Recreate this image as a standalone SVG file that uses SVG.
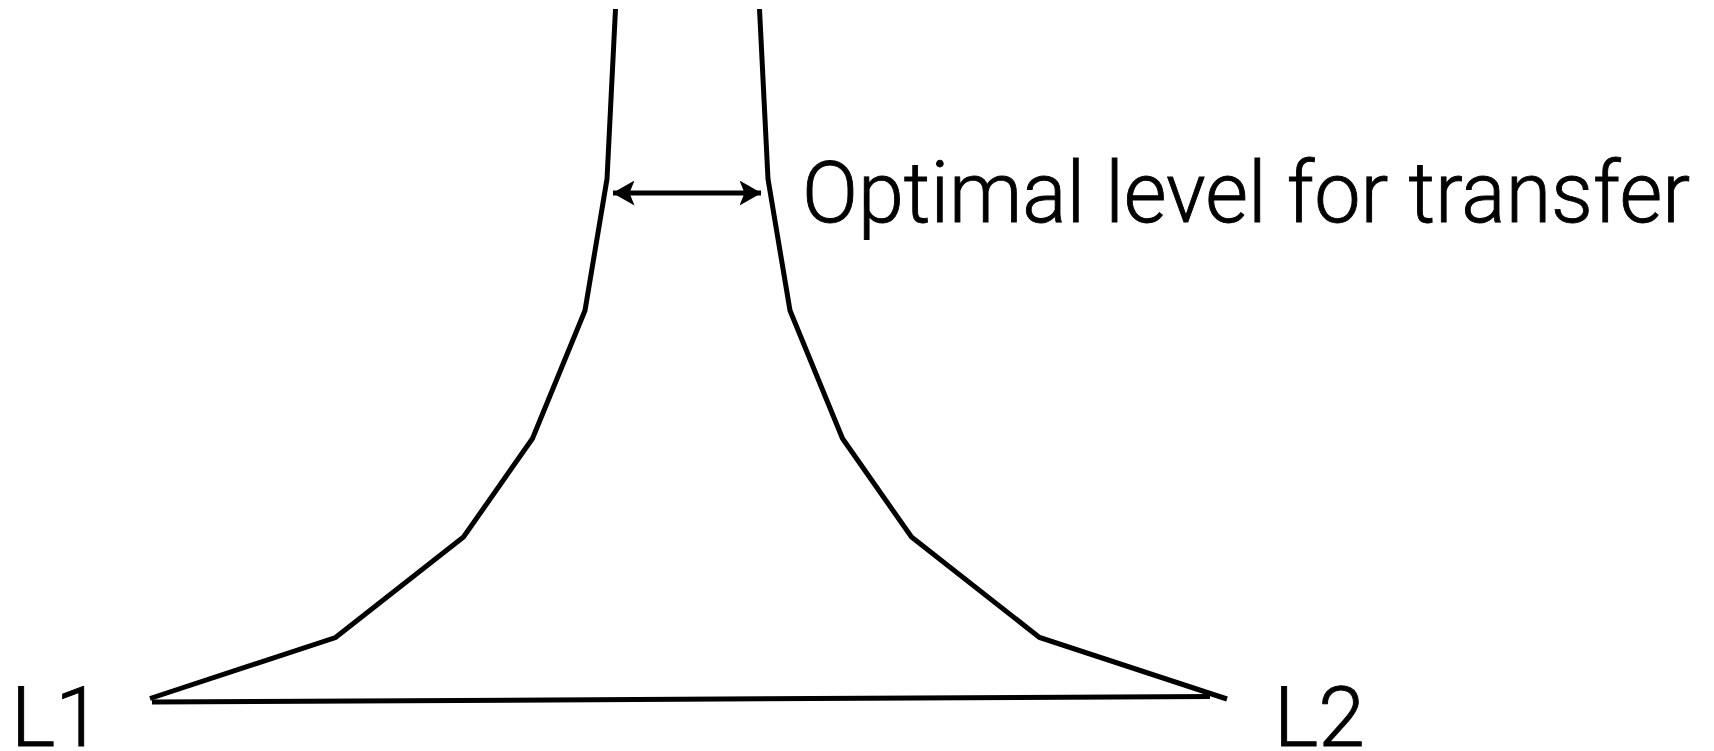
<svg xmlns="http://www.w3.org/2000/svg" width="1714" height="751" viewBox="0 0 1714 751">
<style>
.ln{fill:none;stroke:#000;stroke-width:5;stroke-linejoin:miter;stroke-linecap:butt}
.lbl{font-family:Roboto,"Liberation Sans",Arial,sans-serif;font-weight:300;fill:#000;stroke:#000;stroke-width:0.9}
</style>
<defs>
<marker id="ah" viewBox="0 0 22 25" refX="21.5" refY="12.5" markerWidth="22" markerHeight="25" markerUnits="userSpaceOnUse" orient="auto-start-reverse">
<path d="M0,0 L22,12.5 L0,25 L5,12.5 Z" fill="#000"/>
</marker>
</defs>
<rect width="1714" height="751" fill="#fff"/>
<g id="connectors">
<polyline class="ln" points="615.5,9 607,179 585,310.5 532.5,438.5 463.5,537 335.5,637.5 150,698.5"/>
<polyline class="ln" points="759.5,9 768,179 790,310.5 842.5,438.5 911.5,537 1039.5,637.5 1227,699"/>
<line class="ln" x1="152" y1="702" x2="1210" y2="696.5"/>
<line class="ln" x1="613" y1="193" x2="761" y2="193" marker-start="url(#ah)" marker-end="url(#ah)"/>
</g>
<g id="label-optimal"><text class="lbl" x="802" y="222" font-size="85" textLength="888" lengthAdjust="spacingAndGlyphs">Optimal level for transfer</text></g>
<g id="label-L1"><text class="lbl" x="11" y="745.5" font-size="84">L1</text></g>
<g id="label-L2"><text class="lbl" x="1274" y="745.5" font-size="84">L2</text></g>
</svg>
